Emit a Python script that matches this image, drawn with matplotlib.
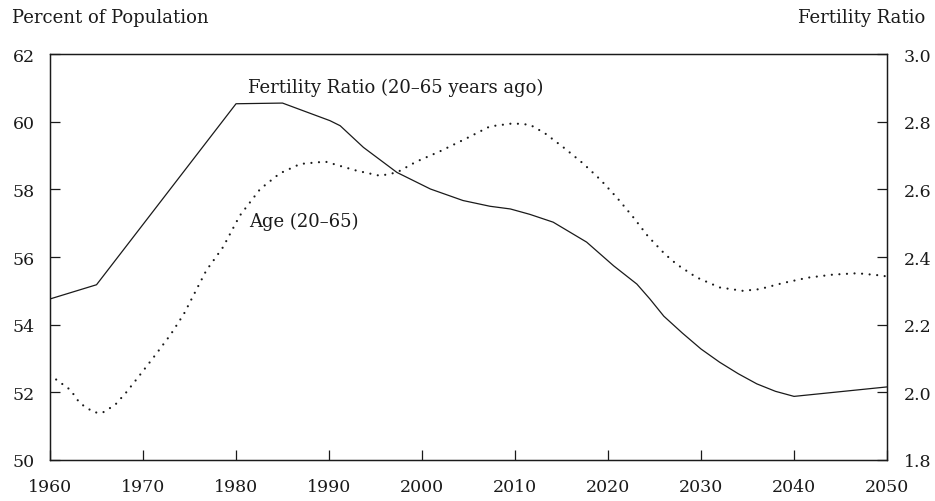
import matplotlib
matplotlib.use('Agg')
import matplotlib.pyplot as plt

# Fertility ratio (20-65 years ago), right axis
fert_years = [1960, 1965, 1980, 1985, 1990.1, 1991.2, 1993.7, 1997.3, 2000.9, 2004.4,
              2007.3, 2009.5, 2011.6, 2014.1, 2017.7, 2020.6, 2023.1, 2024.5, 2026,
              2028, 2030, 2032, 2034, 2036, 2038, 2040, 2050]
fert_ratio = [2.276, 2.318, 2.853, 2.855, 2.803, 2.788, 2.724, 2.650, 2.601, 2.567,
              2.550, 2.542, 2.526, 2.503, 2.444, 2.374, 2.320, 2.276, 2.225,
              2.175, 2.128, 2.089, 2.055, 2.025, 2.003, 1.988, 2.016]

# Age (20-65) as percent of population, left axis
age_years = [1960, 1962.2, 1963.2, 1964.7, 1965.6, 1967, 1968.2, 1969.8, 1971.4, 1973,
             1974.4, 1976.8, 1978.6, 1980.4, 1982.6, 1984.7, 1986.9, 1989.6, 1992.1,
             1993, 1995.5, 1997.3, 1999.4, 2001.9, 2004.8, 2007.3, 2009.8, 2011.6,
             2013.2, 2015.3, 2017.3, 2019.2, 2021, 2022.7, 2024.3, 2026.1, 2027.4,
             2029.5, 2032, 2034.5, 2036.3, 2038.8, 2041.5, 2044.2, 2046.8, 2049.5, 2050]
age_share = [52.51, 52.07, 51.68, 51.41, 51.39, 51.63, 52.00, 52.56, 53.13, 53.72,
             54.32, 55.60, 56.29, 57.22, 58.01, 58.47, 58.75, 58.82, 58.62,
             58.55, 58.40, 58.50, 58.82, 59.12, 59.51, 59.86, 59.95, 59.91,
             59.66, 59.22, 58.77, 58.28, 57.74, 57.18, 56.61, 56.09, 55.78,
             55.40, 55.10, 55.00, 55.05, 55.23, 55.39, 55.48, 55.52, 55.45, 55.42]

left_ticks = [50, 52, 54, 56, 58, 60, 62]
right_ticks = [1.8, 2.0, 2.2, 2.4, 2.6, 2.8, 3.0]
year_ticks = list(range(1960, 2051, 10))

ink = '#1a1a1a'
plt.rcParams['font.family'] = 'DejaVu Serif'
plt.rcParams['font.size'] = 12.5

fig = plt.figure(figsize=(9.35, 5.02), dpi=100)
ax = fig.add_axes([0.0535, 0.0817, 0.8952, 0.8087])
ax2 = ax.twinx()

ax.plot(age_years, age_share, color=ink, lw=1.6,
        linestyle=(0, (0.01, 3.4)), dash_capstyle='round')
ax2.plot(fert_years, fert_ratio, color=ink, lw=0.9)

ax.set_xlim(1960, 2050)
ax.set_ylim(50, 62)
ax2.set_ylim(1.8, 3.0)
ax.set_xticks(year_ticks)
ax.set_yticks(left_ticks)
ax2.set_yticks(right_ticks)
ax2.set_yticklabels(['%.1f' % v for v in right_ticks])

for a in (ax, ax2):
    for s in a.spines.values():
        s.set_linewidth(0.9)
        s.set_color(ink)
ax.tick_params(axis='both', direction='in', length=7, width=0.9, color=ink,
               labelcolor=ink)
ax.tick_params(axis='y', pad=11)
ax.tick_params(axis='x', pad=13)
ax2.tick_params(axis='y', direction='in', length=7, width=0.9, color=ink,
                labelcolor=ink, pad=12)

ax.text(1981.3, 61.03, 'Fertility Ratio (20\u201365 years ago)', ha='left', va='center',
        color=ink, fontsize=13)
ax.text(1981.4, 57.07, 'Age (20\u201365)', ha='left', va='center', color=ink, fontsize=13)

fig.text(12 / 935, 1 - 18 / 502, 'Percent of Population', ha='left', va='center',
         color=ink, fontsize=13)
fig.text(925 / 935, 1 - 18 / 502, 'Fertility Ratio', ha='right', va='center',
         color=ink, fontsize=13)

fig.savefig('out.png', dpi=100)
